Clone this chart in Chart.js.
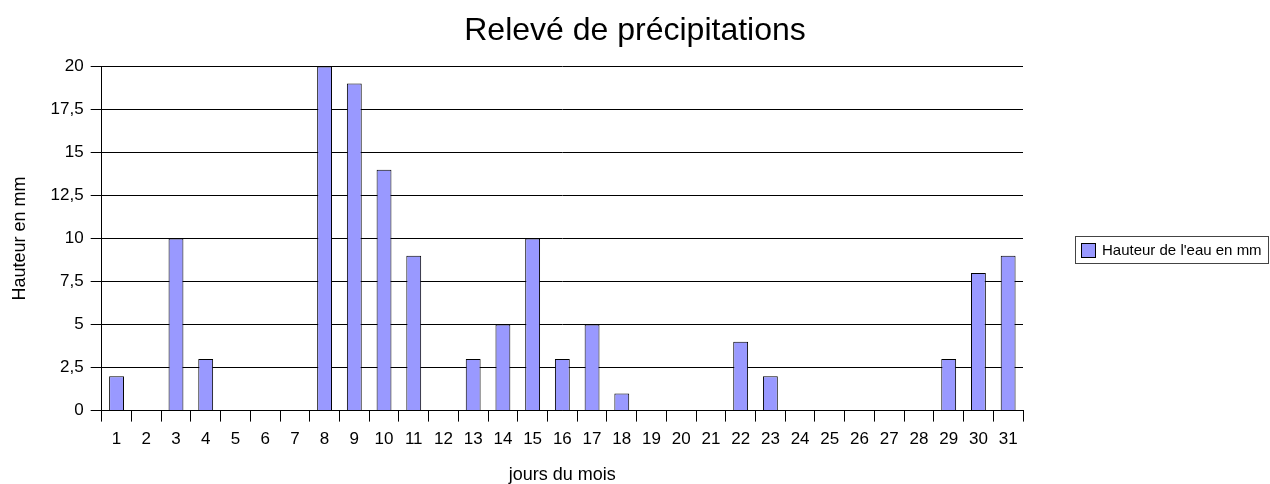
<!DOCTYPE html>
<html>
<head>
<meta charset="utf-8">
<script src="https://cdn.jsdelivr.net/npm/chart.js@4/dist/chart.umd.min.js"></script>
<style>
  body { margin: 0; background: #fff; }
</style>
</head>
<body>
<canvas id="rainChart" width="1270" height="484"></canvas>
<script>
const days = ['1','2','3','4','5','6','7','8','9','10','11','12','13','14','15','16',
  '17','18','19','20','21','22','23','24','25','26','27','28','29','30','31']
const rainfall = [2, 0, 10, 3, 0, 0, 0, 20, 19, 14, 9, 0, 3, 5, 10, 3,
  5, 1, 0, 0, 0, 4, 2, 0, 0, 0, 0, 0, 3, 8, 9]
const seriesName = "Hauteur de l'eau en mm"
const barColor = '#9999FF'

const fontFamily = '"Liberation Sans", Arial, sans-serif'

// legend in its own layout box on the right, framed like the spreadsheet one
const sideLegend = {
  id: 'sideLegend',
  beforeInit (chart) {
    const box = {
      position: 'right',
      weight: 0,
      fullSize: false,
      options: {},
      width: 0,
      height: 0,
      isHorizontal () { return false },
      update (maxWidth, maxHeight) {
        this.width = 247
        this.height = maxHeight
      },
      draw () {
        const c = chart.ctx
        const ds = chart.data.datasets[0]
        const x0 = this.left + 53
        const yMid = 250
        c.save()
        c.strokeStyle = '#444'
        c.lineWidth = 1
        c.strokeRect(x0 - 0.5, yMid - 13.5, this.right - x0 - 1, 27)
        c.fillStyle = ds.backgroundColor
        c.fillRect(x0 + 5, yMid - 7, 15, 15)
        c.strokeStyle = '#000'
        c.strokeRect(x0 + 5.5, yMid - 6.5, 14, 14)
        c.fillStyle = '#000'
        c.font = '15px ' + fontFamily
        c.textBaseline = 'middle'
        c.fillText(ds.label, x0 + 26, yMid + 1)
        c.restore()
      }
    }
    Chart.layouts.addBox(chart, box)
  }
}

const ctx = document.getElementById('rainChart')
const myChart = new Chart(ctx, {
  type: 'bar',
  data: {
    labels: days,
    datasets: [{
      label: seriesName,
      data: rainfall,
      backgroundColor: barColor,
      borderColor: '#000',
      borderWidth: 1,
      barPercentage: 0.5,
      categoryPercentage: 1
    }]
  },
  options: {
    responsive: false,
    animation: false,
    layout: { padding: 0 },
    plugins: {
      title: {
        display: true,
        text: 'Relevé de précipitations',
        color: '#000',
        font: { family: fontFamily, size: 32, weight: 'normal' },
        padding: { top: 12, bottom: 16 }
      },
      legend: { display: false },
      tooltip: { enabled: false }
    },
    scales: {
      x: {
        grid: {
          offset: true,
          drawOnChartArea: false,
          color: '#000',
          tickLength: 11
        },
        border: { color: '#000' },
        ticks: {
          color: '#000',
          font: { family: fontFamily, size: 17 },
          padding: 8,
          maxRotation: 0,
          autoSkip: false
        },
        title: {
          display: true,
          text: 'jours du mois',
          color: '#000',
          font: { family: fontFamily, size: 18, lineHeight: 1 },
          padding: { top: 8, bottom: 0 }
        }
      },
      y: {
        min: 0,
        max: 20,
        grid: {
          color: '#000',
          tickLength: 11
        },
        border: { color: '#000' },
        ticks: {
          stepSize: 2.5,
          color: '#000',
          font: { family: fontFamily, size: 17 },
          padding: 7,
          callback: (v) => String(v).replace('.', ',')
        },
        title: {
          display: true,
          text: 'Hauteur en mm',
          color: '#000',
          font: { family: fontFamily, size: 18 },
          padding: { top: 9, bottom: 13 }
        }
      }
    }
  },
  plugins: [sideLegend]
})
</script>
</body>
</html>
